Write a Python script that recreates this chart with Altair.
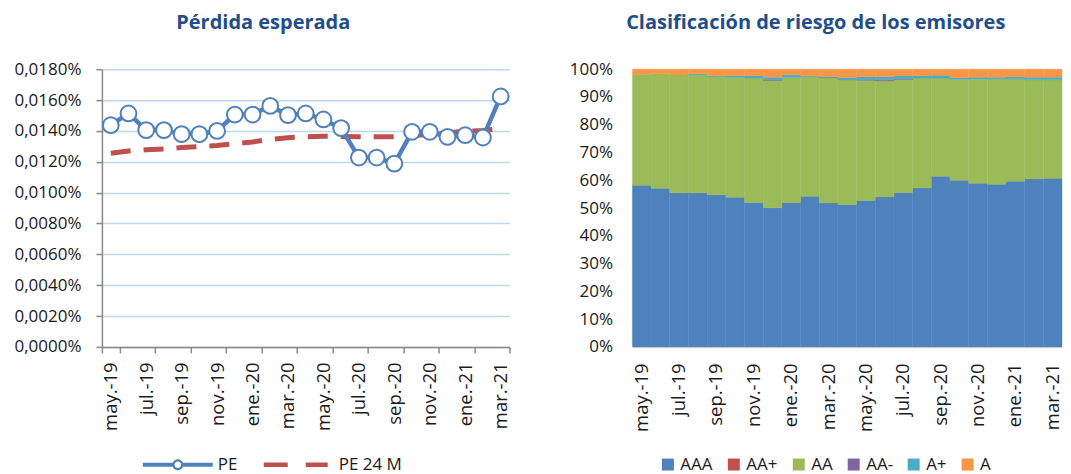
import altair as alt
import pandas as pd

months = ["may.-19", "jun.-19", "jul.-19", "ago.-19", "sep.-19", "oct.-19", "nov.-19", "dic.-19",
          "ene.-20", "feb.-20", "mar.-20", "abr.-20", "may.-20", "jun.-20", "jul.-20", "ago.-20",
          "sep.-20", "oct.-20", "nov.-20", "dic.-20", "ene.-21", "feb.-21", "mar.-21"]

# Pérdida esperada (in %)
pe = [0.01437, 0.01513, 0.01405, 0.01405, 0.01379, 0.01379, 0.01400, 0.01506, 0.01506, 0.01562,
      0.01502, 0.01513, 0.01474, 0.01418, 0.01227, 0.01227, 0.01188, 0.01394, 0.01394, 0.01361,
      0.01372, 0.01357, 0.01623]
pe24 = [0.01255, 0.01270, 0.01278, 0.01283, 0.01292, 0.01298, 0.01305, 0.01318, 0.01328, 0.01345,
        0.01356, 0.01362, 0.01365, 0.01364, 0.01362, 0.01362, 0.01362, 0.01368, 0.01378, 0.01388,
        0.01397, 0.01402, 0.01415]
series_names = ["PE", "PE 24 M"]
y_ticks = [0.0, 0.002, 0.004, 0.006, 0.008, 0.010, 0.012, 0.014, 0.016, 0.018]

# Clasificación de riesgo (% of portfolio)
ratings = ["AAA", "AA+", "AA", "AA-", "A+", "A"]
aaa = [58.2, 57.1, 55.5, 55.5, 54.8, 53.9, 51.9, 50.1, 52.0, 54.2, 51.9, 51.3, 52.7, 54.0, 55.5,
       57.2, 61.4, 60.0, 58.9, 58.6, 59.6, 60.4, 60.7]
aa_plus = [0.0] * 23
aa = [40.0, 41.3, 42.45, 42.45, 42.5, 43.1, 44.8, 45.8, 45.0, 43.1, 45.1, 45.0, 43.3, 41.8, 40.6,
      39.5, 35.3, 36.3, 37.5, 37.9, 36.9, 35.7, 35.4]
aa_minus = [0, 0, 0, 0, 0, 0, 0, 0.4, 0, 0, 0.1, 0.1, 0.3, 0.5, 0.2, 0, 0, 0, 0, 0, 0, 0, 0]
a_plus = [0, 0, 0, 0.4, 0.3, 0.6, 0.8, 0.8, 1.0, 0.3, 0.3, 0.7, 1.0, 1.0, 1.1, 0.8, 1.0, 0.6, 0.7,
          0.6, 0.8, 0.9, 0.9]
a = [1.8, 1.6, 2.05, 1.65, 2.4, 2.4, 2.4, 2.9, 2.05, 2.4, 2.7, 3.0, 2.7, 2.7, 2.4, 2.4, 2.2, 3.1,
     2.9, 2.9, 2.7, 2.9, 2.9]
rating_colors = ["#4F81BD", "#C0504D", "#9BBB59", "#8064A2", "#4BACC6", "#F79646"]

FONT = "Open Sans"
TITLE_COLOR = "#1F4E8A"
LABEL_COLOR = "#1a1a1a"

# ---------- left chart ----------
line_rows = []
for s, vals in zip(series_names, [pe, pe24]):
    for m, v in zip(months, vals):
        line_rows.append({"month": m, "series": s, "value": v})
line_df = pd.DataFrame(line_rows)

pe_path = ("M-3.5,-0.2L-0.5,-0.2L-0.5,0.2L-3.5,0.2Z"
           "M0.5,-0.2L3.5,-0.2L3.5,0.2L0.5,0.2Z"
           "M0.55,0A0.55,0.55,0,1,1,-0.55,0A0.55,0.55,0,1,1,0.55,0Z"
           "M0.33,0A0.33,0.33,0,1,0,-0.33,0A0.33,0.33,0,1,0,0.33,0Z")
pe24_path = ("M-3.5,-0.22L-1.1,-0.22L-1.1,0.22L-3.5,0.22Z"
             "M0.7,-0.22L2.9,-0.22L2.9,0.22L0.7,0.22Z")

x_left = alt.X("month:N", sort=months, title=None,
               scale=alt.Scale(type="band", paddingInner=0, paddingOuter=0),
               axis=alt.Axis(values=months[::2], tickBand="extent", labelAngle=-90,
                             tickSize=6, tickColor="#898989", tickWidth=1.5,
                             domainColor="#898989", domainWidth=1.5, labelPadding=9,
                             labelFontSize=18.5, grid=False))
y_left = alt.Y("value:Q", title=None,
               scale=alt.Scale(domain=[0, 0.018], nice=False),
               axis=alt.Axis(values=y_ticks,
                             labelExpr="replace(format(datum.value, '.4f'), '.', ',') + '%'",
                             grid=True, gridColor="#BDD7EE", gridWidth=1.5,
                             tickSize=6, tickColor="#898989", tickWidth=1.5,
                             domainColor="#898989", domainWidth=1.5, labelPadding=15))

base_left = alt.Chart(line_df).encode(x=x_left, y=y_left)

pe24_line = base_left.transform_filter(alt.datum.series == "PE 24 M").mark_line(
    color="#C0504D", strokeWidth=5, strokeDash=[20, 13])
pe_line = base_left.transform_filter(alt.datum.series == "PE").mark_line(
    color="#4F81BD", strokeWidth=4.5)
pe_pts = base_left.transform_filter(alt.datum.series == "PE").mark_point(
    shape="circle", size=250, filled=True, fill="white", stroke="#4F81BD",
    strokeWidth=2, opacity=1)

left_legend = alt.Legend(orient="none", legendX=66, legendY=386, direction="horizontal",
                         title=None, symbolSize=400, labelOffset=30, columnPadding=26,
                         labelFontSize=17, labelFont=FONT, labelColor=LABEL_COLOR,
                         symbolStrokeWidth=0, symbolOpacity=1)
legend_layer = base_left.mark_point(filled=True, opacity=0).encode(
    color=alt.Color("series:N", scale=alt.Scale(domain=series_names, range=["#4F81BD", "#C0504D"]),
                    legend=left_legend),
    shape=alt.Shape("series:N", scale=alt.Scale(domain=series_names, range=[pe_path, pe24_path]),
                    legend=left_legend),
)

left = alt.layer(pe24_line, pe_line, pe_pts, legend_layer).properties(
    width=408, height=278,
    title=alt.TitleParams("Pérdida esperada", fontSize=20, font=FONT, fontWeight="bold",
                          color=TITLE_COLOR, anchor="middle", frame="bounds", offset=27))

# ---------- right chart ----------
bar_rows = []
for r, vals in zip(ratings, [aaa, aa_plus, aa, aa_minus, a_plus, a]):
    for m, v in zip(months, vals):
        bar_rows.append({"month": m, "rating": r, "order": ratings.index(r), "value": v})
bar_df = pd.DataFrame(bar_rows)

right = alt.Chart(bar_df).transform_filter(alt.datum.value > 0).mark_bar(strokeWidth=0.4).encode(
    x=alt.X("month:N", sort=months, title=None,
            scale=alt.Scale(type="band", paddingInner=0, paddingOuter=0),
            axis=alt.Axis(values=months[::2], labelAngle=-90, ticks=False,
                          domainColor="#D9D9D9", domainWidth=1.5, labelPadding=16,
                          labelFontSize=18.5)),
    y=alt.Y("value:Q", stack="normalize", title=None,
            scale=alt.Scale(domain=[0, 1], nice=False),
            axis=alt.Axis(values=[i / 10 for i in range(11)], format=".0%", grid=False,
                          ticks=False, domain=False, labelPadding=20)),
    color=alt.Color("rating:N", scale=alt.Scale(domain=ratings, range=rating_colors),
                    legend=alt.Legend(orient="none", legendX=27, legendY=387, direction="horizontal",
                                      title=None, symbolType="square", symbolSize=144,
                                      labelOffset=4, columnPadding=12, labelFontSize=17,
                                      labelFont=FONT, labelColor=LABEL_COLOR, symbolStrokeWidth=0)),
    stroke=alt.Stroke("rating:N", scale=alt.Scale(domain=ratings, range=rating_colors), legend=None),
    order=alt.Order("order:Q", sort="ascending"),
).properties(
    width=430, height=278,
    title=alt.TitleParams("Clasificación de riesgo de los emisores", fontSize=20, font=FONT,
                          fontWeight="bold", color=TITLE_COLOR, anchor="middle", frame="bounds",
                          offset=27))

chart = alt.hconcat(left, right, spacing=55).properties(
    padding={"left": 5, "right": 0, "top": 5, "bottom": 8}
).resolve_scale(color="independent", shape="independent").configure_view(
    stroke=None
).configure_axis(
    labelFont=FONT, labelFontSize=17, labelColor=LABEL_COLOR
)

chart.save("out.html", embed_options={"renderer": "svg", "actions": False})
